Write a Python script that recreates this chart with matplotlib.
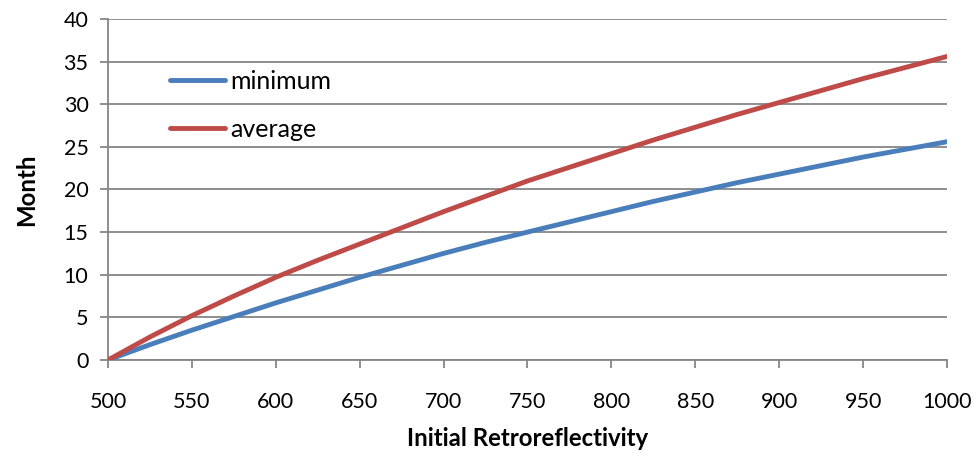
import matplotlib
matplotlib.use('Agg')
import matplotlib.pyplot as plt

plt.rcParams['font.family'] = ['Lato', 'DejaVu Sans']

# data
retro = [500, 525, 550, 575, 600, 625, 650, 675, 700, 725, 750,
         775, 800, 825, 850, 875, 900, 925, 950, 975, 1000]
minimum = [0, 1.8, 3.5, 5.1, 6.7, 8.2, 9.7, 11.1, 12.5, 13.8, 15.0,
           16.2, 17.4, 18.6, 19.7, 20.8, 21.8, 22.8, 23.8, 24.7, 25.6]
average = [0, 2.7, 5.2, 7.5, 9.7, 11.7, 13.6, 15.5, 17.4, 19.2, 21.0,
           22.6, 24.2, 25.8, 27.3, 28.8, 30.2, 31.6, 33.0, 34.3, 35.6]
xticks = list(range(500, 1001, 50))
yticks = list(range(0, 41, 5))

grid_col = '#868686'
fs = 15.5

fig = plt.figure(figsize=(9.79, 4.59), dpi=100)
ax = fig.add_axes([0.1103, 0.2157, 0.857, 0.743])

ax.plot(retro, minimum, color='#4A7EBB', lw=3.5, solid_capstyle='round', label='minimum', zorder=3)
ax.plot(retro, average, color='#BE4B48', lw=3.5, solid_capstyle='round', label='average', zorder=3)

ax.set_xlim(500, 1000)
ax.set_ylim(0, 40)
ax.set_xticks(xticks)
ax.set_yticks(yticks)
ax.grid(axis='y', color=grid_col, lw=1.3)
ax.set_axisbelow(True)

for s in ['top', 'right']:
    ax.spines[s].set_visible(False)
for s in ['left', 'bottom']:
    ax.spines[s].set_color(grid_col)
    ax.spines[s].set_linewidth(1.3)

ax.tick_params(axis='both', colors=grid_col, labelcolor='black', labelsize=fs,
               length=6, width=1.3, direction='out')
ax.tick_params(axis='x', pad=17)
ax.tick_params(axis='y', pad=8)

ax.set_xlabel('Initial Retroreflectivity', fontsize=17.3, fontweight='bold', labelpad=11)
ax.set_ylabel('Month', fontsize=17.3, fontweight='bold', labelpad=18)

ax.legend(loc='upper left', bbox_to_anchor=(0.074, 0.85), frameon=False,
          fontsize=18, handlelength=2.2, handletextpad=0.2, labelspacing=0.98,
          borderpad=0, borderaxespad=0)

fig.savefig('out.png', dpi=100)
